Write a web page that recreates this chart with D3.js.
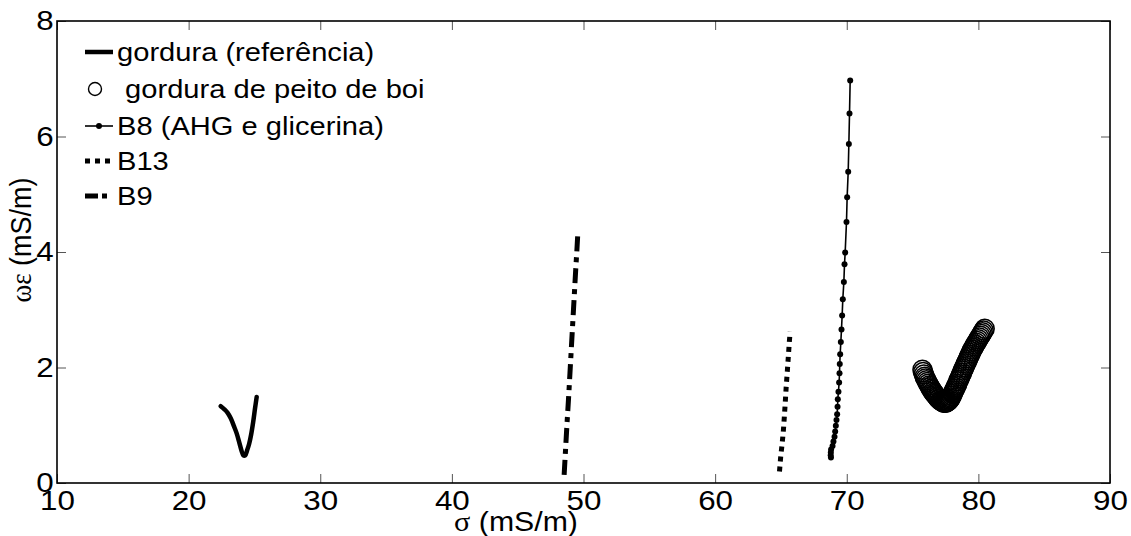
<!DOCTYPE html>
<html><head><meta charset="utf-8">
<script src="https://cdn.jsdelivr.net/npm/d3@7"></script>
<style>
body{margin:0;background:#fff}
svg{display:block}
text{font-family:"Liberation Sans",Arial,sans-serif;fill:#000}
</style>
</head><body>
<svg id="chart" width="1131" height="536"></svg>
<script>
// ---------- data ----------
const xTicks = [10, 20, 30, 40, 50, 60, 70, 80, 90];
const yTicks = [0, 2, 4, 6, 8];

const gorduraSigma = [22.44, 22.70, 22.95, 23.20, 23.45, 23.65, 23.85, 24.02, 24.16, 24.30, 24.45, 24.60, 24.75, 24.90, 25.05, 25.17];
const gorduraOmega = [1.33, 1.28, 1.22, 1.12, 0.98, 0.86, 0.70, 0.56, 0.48, 0.48, 0.57, 0.68, 0.84, 1.05, 1.30, 1.49];

const peitoSigma = [75.75, 75.80, 75.86, 75.92, 75.98, 76.05, 76.12, 76.19, 76.26, 76.33, 76.40, 76.47, 76.54, 76.61, 76.68, 76.75, 76.82, 76.89, 76.96, 77.03, 77.10, 77.17, 77.24, 77.31, 77.38, 77.45, 77.52, 77.59, 77.66,
  77.73, 77.80, 77.86, 77.92, 77.98, 78.04, 78.10, 78.16, 78.22, 78.28, 78.34, 78.40, 78.46, 78.52, 78.58, 78.64, 78.70, 78.76, 78.82, 78.88, 78.94, 79.00, 79.06, 79.12, 79.18, 79.24, 79.30, 79.36, 79.42, 79.48, 79.55, 79.62, 79.69, 79.76, 79.84, 79.92, 80.00, 80.08, 80.16, 80.24, 80.32, 80.40, 80.48];
const peitoOmega = [1.96, 1.92, 1.88, 1.84, 1.81, 1.78, 1.75, 1.72, 1.69, 1.66, 1.63, 1.61, 1.58, 1.56, 1.54, 1.52, 1.50, 1.48, 1.46, 1.45, 1.43, 1.42, 1.41, 1.40, 1.39, 1.39, 1.39, 1.40, 1.41,
  1.42, 1.44, 1.46, 1.48, 1.51, 1.54, 1.57, 1.60, 1.63, 1.66, 1.69, 1.72, 1.76, 1.79, 1.82, 1.85, 1.88, 1.91, 1.95, 1.98, 2.01, 2.04, 2.07, 2.10, 2.13, 2.16, 2.19, 2.22, 2.25, 2.28, 2.31, 2.34, 2.37, 2.40, 2.43, 2.46, 2.49, 2.52, 2.55, 2.58, 2.61, 2.64, 2.67];

const b8Sigma = [68.80, 68.78, 68.79, 68.81, 68.92, 68.99, 69.07, 69.12, 69.17, 69.22, 69.27, 69.30, 69.32, 69.37, 69.42, 69.45, 69.47, 69.50, 69.55, 69.60, 69.65, 69.70, 69.78, 69.83, 69.88, 69.98, 70.03, 70.11, 70.16, 70.21, 70.26];
const b8Omega = [0.44, 0.48, 0.53, 0.58, 0.64, 0.72, 0.80, 0.89, 0.99, 1.09, 1.19, 1.32, 1.45, 1.58, 1.74, 1.90, 2.06, 2.23, 2.44, 2.66, 2.90, 3.18, 3.48, 3.79, 3.99, 4.52, 4.95, 5.39, 5.87, 6.40, 6.97];

const b13Sigma = [64.89, 64.98, 65.10, 65.19, 65.26, 65.33, 65.40, 65.49, 65.58, 65.64, 65.70];
const b13Omega = [0.20, 0.45, 0.70, 0.92, 1.15, 1.40, 1.67, 1.95, 2.25, 2.45, 2.62];

const b9Sigma = [48.53, 48.63, 48.74, 48.86, 48.97, 49.08, 49.19, 49.30, 49.41, 49.49, 49.56];
const b9Omega = [0.14, 0.55, 1.00, 1.45, 1.90, 2.35, 2.80, 3.25, 3.70, 4.00, 4.29];

const legendLabels = ["gordura (referência)", " gordura de peito de boi", "B8 (AHG e glicerina)", "B13", "B9"];

// ---------- layout ----------
const svg = d3.select("#chart");
const L = 57, R = 1110, T = 21, B = 483;
const x = d3.scaleLinear().domain([10, 90]).range([L, R]);
const y = d3.scaleLinear().domain([0, 8]).range([B, T]);
const SX = 1.12; // horizontal text stretch of the original figure
const FS = 28;   // tick / axis label size
const LFS = 26;  // legend size

const zip = (a, b) => a.map((v, i) => [v, b[i]]);
const line = d3.line().x(d => x(d[0])).y(d => y(d[1]));

// axes (inward ticks on all four sides)
const gx = svg.append("g").attr("transform", `translate(0,${B})`)
  .call(d3.axisBottom(x).tickValues(xTicks).tickSizeInner(-9).tickSizeOuter(0).tickPadding(7));
const gxt = svg.append("g").attr("transform", `translate(0,${T})`)
  .call(d3.axisTop(x).tickValues(xTicks).tickSizeInner(-9).tickSizeOuter(0).tickFormat(""));
const gy = svg.append("g").attr("transform", `translate(${L},0)`)
  .call(d3.axisLeft(y).tickValues(yTicks).tickSizeInner(-9).tickSizeOuter(0).tickPadding(3));
const gyr = svg.append("g").attr("transform", `translate(${R},0)`)
  .call(d3.axisRight(y).tickValues(yTicks).tickSizeInner(-9).tickSizeOuter(0).tickFormat(""));
[gx, gxt, gy, gyr].forEach(g => {
  g.select(".domain").remove();
  g.selectAll(".tick line").attr("stroke", "#555").attr("stroke-width", 1);
  g.selectAll(".tick text").attr("font-size", FS).attr("font-family", "Liberation Sans, Arial, sans-serif")
    .attr("fill", "#000").attr("transform", `scale(${SX},1)`);
});
svg.append("rect").attr("x", L).attr("y", T).attr("width", R - L).attr("height", B - T)
  .attr("fill", "none").attr("stroke", "#000").attr("stroke-width", 1.6);

// axis labels
svg.append("text").attr("transform", `translate(516,531) scale(${SX},1)`).attr("text-anchor", "middle")
  .attr("font-size", FS - 1)
  .html('<tspan font-family="Liberation Serif, Times New Roman, serif">σ</tspan> (mS/m)');
svg.append("text").attr("transform", `translate(31,240) rotate(-90) scale(1,${SX})`).attr("text-anchor", "middle")
  .attr("font-size", FS - 1)
  .html('<tspan font-family="Liberation Serif, Times New Roman, serif">ωε</tspan> (mS/m)');

// series
svg.append("path").datum(zip(gorduraSigma, gorduraOmega))
  .attr("d", line.curve(d3.curveCatmullRom)).attr("fill", "none").attr("stroke", "#000")
  .attr("stroke-width", 4.5).attr("stroke-linejoin", "round").attr("stroke-linecap", "round");

svg.append("path").datum(zip(b9Sigma, b9Omega))
  .attr("d", d3.line().x(d => x(d[0])).y(d => y(d[1]))).attr("fill", "none").attr("stroke", "#000")
  .attr("stroke-width", 5).attr("stroke-dasharray", "15,6,5,6");

svg.append("path").datum(zip(b13Sigma, b13Omega))
  .attr("d", d3.line().x(d => x(d[0])).y(d => y(d[1]))).attr("fill", "none").attr("stroke", "#000")
  .attr("stroke-width", 5).attr("stroke-dasharray", "5,5");

const b8 = zip(b8Sigma, b8Omega);
svg.append("path").datum(b8)
  .attr("d", d3.line().x(d => x(d[0])).y(d => y(d[1]))).attr("fill", "none").attr("stroke", "#000")
  .attr("stroke-width", 1.6);
svg.append("g").selectAll("circle").data(b8).join("circle")
  .attr("cx", d => x(d[0])).attr("cy", d => y(d[1])).attr("r", 3).attr("fill", "#000");

svg.append("g").selectAll("circle").data(zip(peitoSigma, peitoOmega)).join("circle")
  .attr("cx", d => x(d[0])).attr("cy", d => y(d[1])).attr("r", 9.5)
  .attr("fill", "none").attr("stroke", "#000").attr("stroke-width", 1.5);

// legend
const ly = [52, 89, 126, 161, 196];
const lx0 = 85, lx1 = 113, ltx = 117;
const lg = svg.append("g");
lg.append("line").attr("x1", lx0).attr("x2", lx1).attr("y1", ly[0]).attr("y2", ly[0]).attr("stroke", "#000").attr("stroke-width", 4.5);
lg.append("circle").attr("cx", 95).attr("cy", ly[1]).attr("r", 6.5).attr("fill", "none").attr("stroke", "#000").attr("stroke-width", 1.4);
lg.append("line").attr("x1", lx0).attr("x2", lx1).attr("y1", ly[2]).attr("y2", ly[2]).attr("stroke", "#000").attr("stroke-width", 1.6);
lg.append("circle").attr("cx", 99).attr("cy", ly[2]).attr("r", 3).attr("fill", "#000");
lg.append("line").attr("x1", lx0).attr("x2", lx1).attr("y1", ly[3]).attr("y2", ly[3]).attr("stroke", "#000").attr("stroke-width", 5).attr("stroke-dasharray", "5,5");
lg.append("line").attr("x1", lx0).attr("x2", lx1).attr("y1", ly[4]).attr("y2", ly[4]).attr("stroke", "#000").attr("stroke-width", 5).attr("stroke-dasharray", "13,4,5,6");
legendLabels.forEach((t, i) => {
  lg.append("text").attr("transform", `translate(${ltx},${ly[i]}) scale(${SX},1)`)
    .attr("dy", "0.35em").attr("font-size", LFS).style("white-space", "pre").text(t);
});
</script>
</body></html>
